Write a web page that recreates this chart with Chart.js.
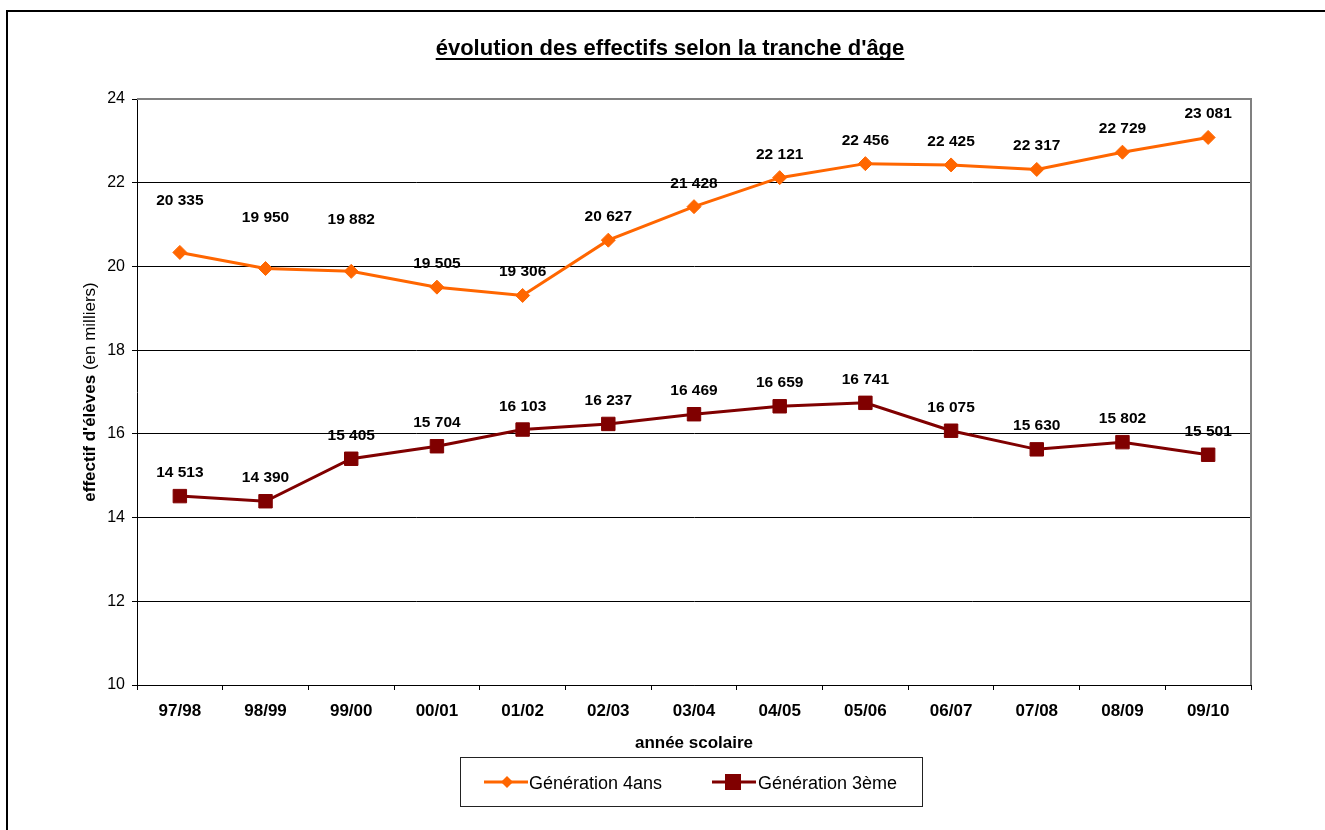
<!DOCTYPE html>
<html>
<head>
<meta charset="utf-8">
<script src="https://cdn.jsdelivr.net/npm/chart.js@4/dist/chart.umd.min.js"></script>
<style>
html,body{margin:0;padding:0;background:#fff;overflow:hidden;}
#wrap{position:absolute;left:0;top:0;width:1325px;height:830px;}
</style>
</head>
<body>
<div id="wrap"><canvas id="c" width="1325" height="830"></canvas></div>
<script>
const categories = ['97/98','98/99','99/00','00/01','01/02','02/03','03/04','04/05','05/06','06/07','07/08','08/09','09/10'];
const gen4ans = [20.335, 19.950, 19.882, 19.505, 19.306, 20.627, 21.428, 22.121, 22.456, 22.425, 22.317, 22.729, 23.081];
const gen3eme = [14.513, 14.390, 15.405, 15.704, 16.103, 16.237, 16.469, 16.659, 16.741, 16.075, 15.630, 15.802, 15.501];
const seriesNames = ['Génération 4ans', 'Génération 3ème'];
const yMin = 10, yMax = 24, yStep = 2;
const chartTitle = "évolution des effectifs selon la tranche d'âge";
const yTitleBold = "effectif d'élèves";
const yTitleNormal = " (en milliers)";
const xTitle = "année scolaire";

const FONT = '"Liberation Sans", Arial, Helvetica, sans-serif';
// extra upward shift (px) of a few manually moved data labels, per series
const labelShift = [
  [28, 28, 28, 0, 0, 0, 0, 0, 0, 0, 0, 0, 0],
  [0, 0, 0, 0, 0, 0, 0, 0, 0, 0, 0, 0, 0]
];

function fmt(v){
  const n = Math.round(v*1000).toString();
  return n.replace(/\B(?=(\d{3})+(?!\d))/g, ' ');
}

const decor = {
  id: 'decor',
  afterDraw(chart){
    const ctx = chart.ctx;
    const a = chart.chartArea;
    ctx.save();
    // outer frame
    ctx.strokeStyle = '#000';
    ctx.lineWidth = 2;
    ctx.beginPath();
    ctx.moveTo(7, 840); ctx.lineTo(7, 11); ctx.lineTo(1330, 11);
    ctx.stroke();
    // plot area top/right border
    ctx.strokeStyle = '#808080';
    ctx.lineWidth = 2;
    ctx.beginPath();
    ctx.moveTo(a.left, a.top); ctx.lineTo(a.right, a.top); ctx.lineTo(a.right, a.bottom);
    ctx.stroke();
    // title
    ctx.fillStyle = '#000';
    ctx.font = 'bold 22px ' + FONT;
    ctx.textAlign = 'center';
    ctx.textBaseline = 'alphabetic';
    const tw = ctx.measureText(chartTitle).width;
    const tcx = 670;
    ctx.fillText(chartTitle, tcx, 55);
    ctx.fillRect(tcx - tw/2, 58, tw, 2);
    // y title
    ctx.save();
    ctx.translate(90, (a.top + a.bottom)/2);
    ctx.rotate(-Math.PI/2);
    ctx.font = 'bold 17px ' + FONT;
    const w1 = ctx.measureText(yTitleBold).width;
    ctx.font = '17px ' + FONT;
    const w2 = ctx.measureText(yTitleNormal).width;
    ctx.textAlign = 'left';
    ctx.textBaseline = 'middle';
    ctx.font = 'bold 17px ' + FONT;
    ctx.fillText(yTitleBold, -(w1+w2)/2, 0);
    ctx.font = '17px ' + FONT;
    ctx.fillText(yTitleNormal, -(w1+w2)/2 + w1, 0);
    ctx.restore();
    // x title
    ctx.font = 'bold 17px ' + FONT;
    ctx.textAlign = 'center';
    ctx.textBaseline = 'alphabetic';
    ctx.fillText(xTitle, (a.left + a.right)/2, 748);
    // data labels
    ctx.font = 'bold 15.5px ' + FONT;
    chart.data.datasets.forEach((ds, di) => {
      const meta = chart.getDatasetMeta(di);
      meta.data.forEach((pt, i) => {
        ctx.fillText(fmt(ds.data[i]), pt.x, pt.y - 19 - labelShift[di][i]);
      });
    });
    // legend
    ctx.strokeStyle = '#222';
    ctx.lineWidth = 1;
    ctx.strokeRect(460.5, 757.5, 462, 49);
    const ly = 782;
    const items = [
      {x0:484, x1:528, mx:507, text:529},
      {x0:712, x1:756, mx:733, text:758}
    ];
    ctx.font = '18px ' + FONT;
    ctx.textAlign = 'left';
    chart.data.datasets.forEach((ds, di) => {
      const it = items[di];
      ctx.strokeStyle = ds.borderColor;
      ctx.fillStyle = ds.borderColor;
      ctx.lineWidth = 3;
      ctx.beginPath(); ctx.moveTo(it.x0, ly); ctx.lineTo(it.x1, ly); ctx.stroke();
      if (ds.pointStyle === 'rectRot') {
        ctx.beginPath();
        ctx.moveTo(it.mx, ly-6); ctx.lineTo(it.mx+6, ly); ctx.lineTo(it.mx, ly+6); ctx.lineTo(it.mx-6, ly);
        ctx.closePath(); ctx.fill();
      } else {
        ctx.fillRect(it.mx-8, ly-8, 16, 16);
      }
      ctx.fillStyle = '#000';
      ctx.fillText(ds.label, it.text, ly + 7);
    });
    ctx.restore();
  }
};

new Chart(document.getElementById('c'), {
  type: 'line',
  data: {
    labels: categories,
    datasets: [
      {
        label: seriesNames[0],
        data: gen4ans,
        borderColor: '#FF6600',
        backgroundColor: '#FF6600',
        borderWidth: 3,
        pointStyle: 'rectRot',
        pointRadius: 7,
        pointBorderWidth: 1,
        pointBorderColor: '#FF6600',
        pointBackgroundColor: '#FF6600',
        tension: 0
      },
      {
        label: seriesNames[1],
        data: gen3eme,
        borderColor: '#800000',
        backgroundColor: '#800000',
        borderWidth: 3,
        pointStyle: 'rect',
        pointRadius: 9.5,
        pointBorderWidth: 1,
        pointBorderColor: '#800000',
        pointBackgroundColor: '#800000',
        tension: 0
      }
    ]
  },
  options: {
    responsive: false,
    animation: false,
    events: [],
    layout: { padding: { left: 0, top: 99, right: 74, bottom: 85 } },
    plugins: { legend: { display: false }, title: { display: false }, tooltip: { enabled: false } },
    scales: {
      x: {
        offset: true,
        afterFit: (s) => { s.height = 60; },
        grid: { display: true, drawOnChartArea: false, drawTicks: true, tickLength: 5, color: '#000', offset: true },
        border: { display: true, color: '#000', width: 1 },
        ticks: { color: '#000', font: { family: FONT, size: 17, weight: 'bold' }, padding: 11, maxRotation: 0, autoSkip: false }
      },
      y: {
        min: yMin, max: yMax,
        afterFit: (s) => { s.width = 137; },
        grid: { color: (c) => (c.tick && c.tick.value === yMax) ? 'rgba(0,0,0,0)' : '#000', tickLength: 5, drawTicks: true, tickColor: '#000' },
        border: { display: true, color: '#000', width: 1 },
        ticks: { stepSize: yStep, color: '#000', font: { family: FONT, size: 16 }, padding: 7 }
      }
    }
  },
  plugins: [decor]
});
</script>
</body>
</html>
